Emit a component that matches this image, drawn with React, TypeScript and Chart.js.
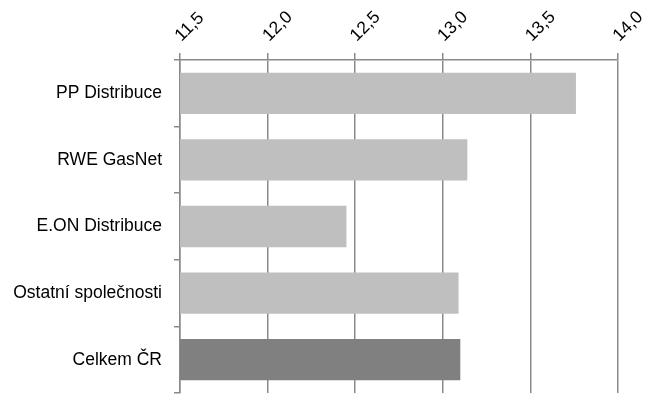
import React, { useEffect, useRef } from "react";
import { Chart, registerables } from "chart.js";

Chart.register(...registerables);

const categories = ["PP Distribuce", "RWE GasNet", "E.ON Distribuce", "Ostatní společnosti", "Celkem ČR"];
const values = [13.76, 13.14, 12.45, 13.09, 13.1];
const barColors = ["#BFBFBF", "#BFBFBF", "#BFBFBF", "#BFBFBF", "#808080"];
const xMin = 11.5;
const xMax = 14.0;

export default function App() {
  const ref = useRef<HTMLCanvasElement | null>(null);

  useEffect(() => {
    document.body.style.margin = "0";
    const ctx = ref.current!;
    const font = { family: "'Liberation Sans', Arial, sans-serif", size: 17.5 };
    const chart = new Chart(ctx, {
      type: "bar",
      data: {
        labels: categories,
        datasets: [
          {
            data: values,
            backgroundColor: barColors,
            borderWidth: 0,
            barPercentage: 0.62,
            categoryPercentage: 1,
          },
        ],
      },
      options: {
        indexAxis: "y",
        animation: false,
        responsive: true,
        maintainAspectRatio: false,
        layout: { padding: { left: 0, right: 41, top: 0, bottom: 1 } },
        plugins: { legend: { display: false }, tooltip: { enabled: false } },
        scales: {
          x: {
            position: "top",
            min: xMin,
            max: xMax,
            ticks: {
              stepSize: 0.5,
              minRotation: 45,
              maxRotation: 45,
              padding: 7,
              labelOffset: 13,
              color: "#000",
              font,
              callback: (v: any) => Number(v).toFixed(1).replace(".", ","),
            },
            grid: { color: "#8A8A8A", lineWidth: 1.5, tickLength: 7, drawOnChartArea: true },
            border: { color: "#8A8A8A", width: 1.5 },
            afterFit: (s: any) => {
              s.height = 60;
              s.paddingLeft = 0;
              s.paddingRight = 0;
            },
          },
          y: {
            ticks: { color: "#000", font, padding: 12 },
            grid: { color: "#8A8A8A", lineWidth: 1.5, tickLength: 6, drawOnChartArea: false, offset: true },
            border: { color: "#8A8A8A", width: 1.5 },
            afterFit: (s: any) => {
              s.width = 180;
              s.paddingTop = 0;
              s.paddingBottom = 0;
            },
          },
        },
      },
    });
    return () => chart.destroy();
  }, []);

  return (
    <div style={{ position: "fixed", left: 0, top: 0, width: 659, height: 394 }}>
      <canvas ref={ref} />
    </div>
  );
}
